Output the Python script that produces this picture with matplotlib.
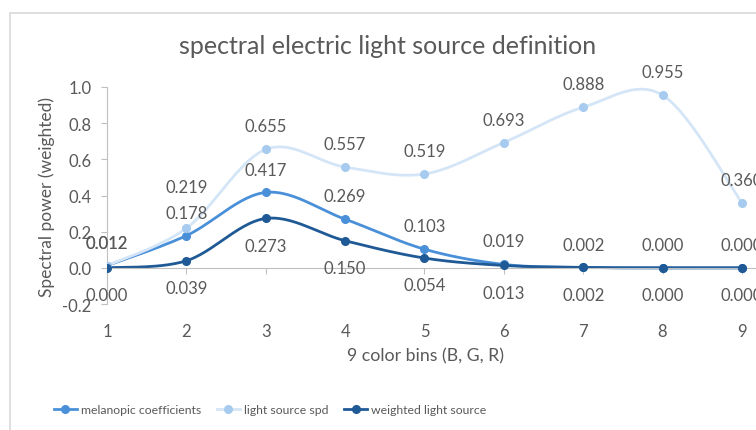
import matplotlib.pyplot as plt
import numpy as np
from matplotlib.patches import Rectangle

bins = [1, 2, 3, 4, 5, 6, 7, 8, 9]
melanopic = [0.012, 0.178, 0.417, 0.269, 0.103, 0.019, 0.002, 0.000, 0.000]
spd = [0.012, 0.219, 0.655, 0.557, 0.519, 0.693, 0.888, 0.955, 0.360]
weighted = [0.000, 0.039, 0.273, 0.150, 0.054, 0.013, 0.002, 0.000, 0.000]
y_ticks = [-0.2, 0.0, 0.2, 0.4, 0.6, 0.8, 1.0]

GREY = "#595959"
plt.rcParams.update({"font.family": ["Lato", "DejaVu Sans"], "font.size": 12})


def smooth(x, y, n=30):
    # Excel-style smoothed line: cubic bezier with catmull-rom control points
    p = np.column_stack([x, y]).astype(float)
    ext = np.vstack([p[0], p, p[-1]])
    t = np.linspace(0, 1, n)[:, None]
    out = []
    for i in range(len(p) - 1):
        p0, p3 = ext[i + 1], ext[i + 2]
        c1 = p0 + (ext[i + 2] - ext[i]) / 6
        c2 = p3 - (ext[i + 3] - ext[i + 1]) / 6
        seg = (1 - t) ** 3 * p0 + 3 * (1 - t) ** 2 * t * c1 + 3 * (1 - t) * t ** 2 * c2 + t ** 3 * p3
        out.append(seg if i == 0 else seg[1:])
    out = np.vstack(out)
    return out[:, 0], out[:, 1]


fig = plt.figure(figsize=(7.56, 4.31), dpi=100)
fig.patches.append(Rectangle((10 / 756, -0.2), 1.2, 1.2 - 14 / 431, transform=fig.transFigure,
                             fill=False, edgecolor="#d9d9d9", linewidth=1.2))
ax = fig.add_axes([107 / 756, 1 - 305 / 431, 650 / 756, 217 / 431])

series = [
    ("melanopic coefficients", melanopic, "#4a90d9", "#4a90d9", 16.5),
    ("light source spd", spd, "#d3e5f6", "#a6cbee", 16.5),
    ("weighted light source", weighted, "#1f5a96", "#1f5a96", -19.5),
]
handles = []
for name, vals, lc, mc, off in series:
    sx, sy = smooth(bins, vals)
    ax.plot(sx, sy, color=lc, linewidth=2.0, solid_capstyle="round", zorder=2)
    ax.plot(bins, vals, "o", color=mc, markersize=5.5, zorder=3)
    h, = ax.plot([], [], color=lc, linewidth=2.0, marker="o", markerfacecolor=mc,
                 markeredgecolor=mc, markersize=5.5)
    handles.append((h, name))
    for i, (x, v) in enumerate(zip(bins, vals)):
        dy = off
        if vals is spd and 0 < i and abs(v - melanopic[i]) < 0.08:
            dy = 29.5
        ax.annotate(f"{v:.3f}", (x, v), xytext=(0, dy), textcoords="offset points",
                    ha="center", va="center", fontsize=12, color=GREY, zorder=4)

ax.set_xlim(1, 9.19)
ax.set_ylim(-0.2, 1.0)
ax.set_yticks(y_ticks)
ax.set_yticklabels([f"{t:.1f}" for t in y_ticks])
ax.set_xticks(bins)
ax.set_xticklabels([str(b) for b in bins])
for s in ["top", "right"]:
    ax.spines[s].set_visible(False)
ax.spines["bottom"].set_position(("data", 0))
ax.spines["bottom"].set_color("#bfbfbf")
ax.spines["left"].set_color("#bfbfbf")
ax.tick_params(axis="x", length=4, color="#bfbfbf", pad=36, labelcolor=GREY, labelsize=12)
ax.tick_params(axis="y", length=4, color="#bfbfbf", pad=7, labelcolor=GREY, labelsize=12)
ax.patch.set_visible(False)

fig.text(47 / 756, 1 - 197 / 431, "Spectral power (weighted)", rotation=90, ha="center",
         va="center", fontsize=12.5, color=GREY)
fig.text(425 / 756, 1 - 356 / 431, "9 color bins (B, G, R)", ha="center", va="center",
         fontsize=12.8, color=GREY)
fig.text(388 / 756, 1 - 46 / 431, "spectral electric light source definition", ha="center",
         va="center", fontsize=18, color=GREY)

fig.legend([h for h, _ in handles], [n for _, n in handles], loc="center",
           bbox_to_anchor=(270 / 756, 1 - 411 / 431), ncol=3, frameon=False,
           fontsize=8.8, labelcolor=GREY, handlelength=1.9, columnspacing=1.3, handletextpad=0.3)

fig.savefig("out.png", dpi=100)
